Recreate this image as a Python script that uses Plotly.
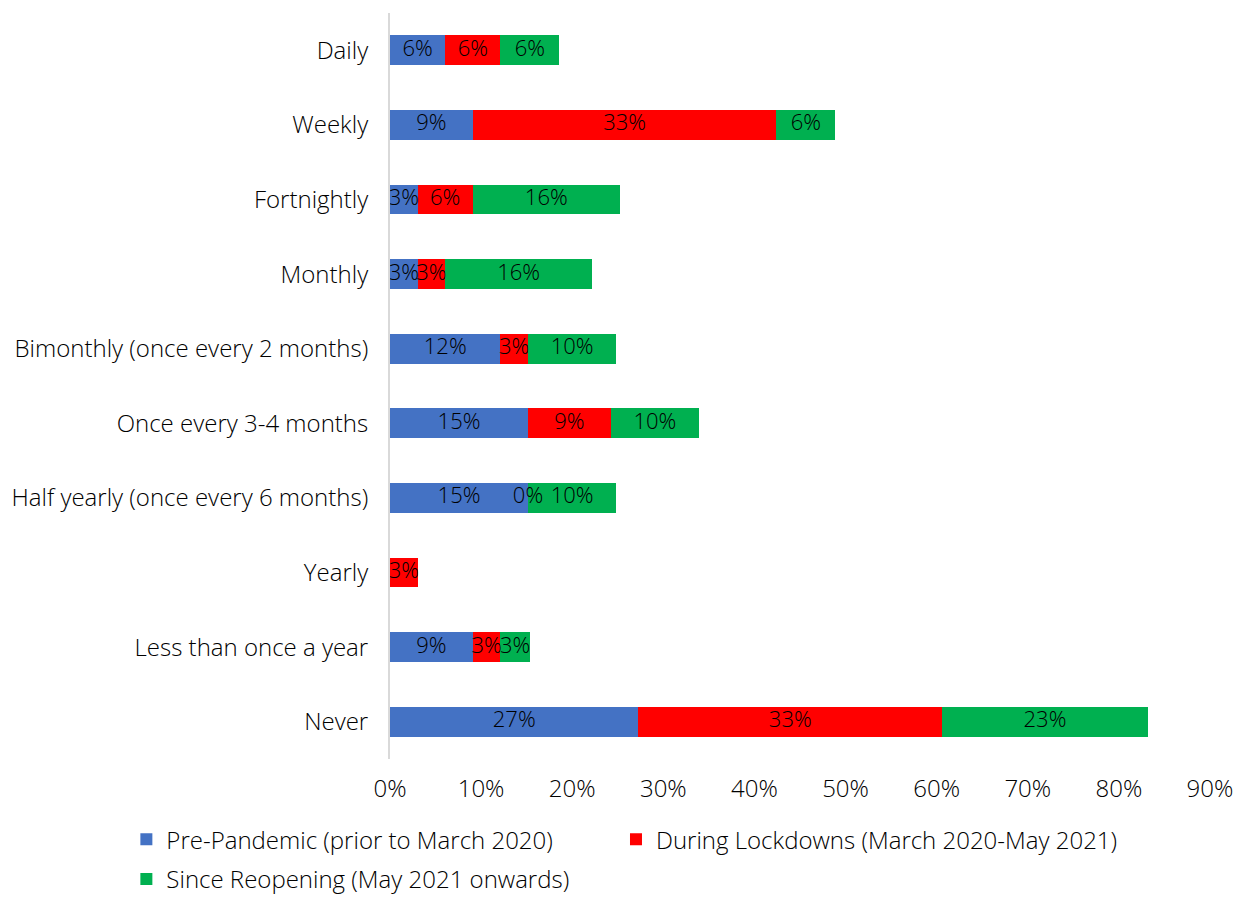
import plotly.graph_objects as go

categories = [
    "Daily",
    "Weekly",
    "Fortnightly",
    "Monthly",
    "Bimonthly (once every 2 months)",
    "Once every 3-4 months",
    "Half yearly (once every 6 months)",
    "Yearly",
    "Less than once a year",
    "Never",
]

# Share of respondents per frequency, for each period
pre_pandemic = [0.0606, 0.0909, 0.0303, 0.0303, 0.1212, 0.1515, 0.1515, None, 0.0909, 0.2727]
during_lockdowns = [0.0606, 0.3333, 0.0606, 0.0303, 0.0303, 0.0909, 0.0, 0.0303, 0.0303, 0.3333]
since_reopening = [0.0645, 0.0645, 0.1613, 0.1613, 0.0968, 0.0968, 0.0968, None, 0.0323, 0.2258]

series_names = [
    "Pre-Pandemic (prior to March 2020)",
    "During Lockdowns (March 2020-May 2021)",
    "Since Reopening (May 2021 onwards)",
]
series_values = [pre_pandemic, during_lockdowns, since_reopening]
series_colors = ["#4472C4", "#FF0000", "#00B050"]
series_legends = ["legend", "legend2", "legend3"]

x_ticks = [i / 10 for i in range(10)]

FONT = "Open Sans"
WEIGHT = 300
TEXT = dict(family=FONT, size=24, color="#000000", weight=WEIGHT)
LABEL = dict(family=FONT, size=22, color="#000000", weight=WEIGHT)

fig = go.Figure()
for name, vals, color, leg in zip(series_names, series_values, series_colors, series_legends):
    fig.add_trace(
        go.Bar(
            y=categories,
            x=vals,
            name=name,
            orientation="h",
            marker=dict(color=color, line=dict(width=0)),
            textposition="none",
            legend=leg,
            hovertemplate="%{y}: %{x:.0%}<extra>" + name + "</extra>",
        )
    )

# Data labels centred on each stacked segment (drawn even for 0% segments)
lab_x, lab_y, lab_t = [], [], []
for i, cat in enumerate(categories):
    base = 0.0
    for vals in series_values:
        v = vals[i]
        if v is None:
            continue
        lab_x.append(base + v / 2)
        lab_y.append(cat)
        lab_t.append(f"{v:.0%}")
        base += v

fig.add_trace(
    go.Scatter(
        x=lab_x,
        y=lab_y,
        text=lab_t,
        mode="text",
        textposition="middle center",
        textfont=LABEL,
        showlegend=False,
        hoverinfo="skip",
        cliponaxis=False,
    )
)

legend_common = dict(
    orientation="h",
    xanchor="left",
    font=TEXT,
    itemclick=False,
    itemdoubleclick=False,
    bgcolor="rgba(0,0,0,0)",
)

fig.update_layout(
    barmode="stack",
    bargap=0.6,
    width=1247,
    height=898,
    margin=dict(l=390, r=37, t=13, b=139, autoexpand=False),
    paper_bgcolor="white",
    plot_bgcolor="white",
    font=TEXT,
    showlegend=True,
    legend=dict(x=-0.3215, y=-0.078, yanchor="top", **legend_common),
    legend2=dict(x=0.2756, y=-0.078, yanchor="top", **legend_common),
    legend3=dict(x=-0.3215, y=-0.1917, yanchor="bottom", **legend_common),
    xaxis=dict(
        range=[0, 0.9],
        tickvals=x_ticks,
        tickformat=".0%",
        showgrid=False,
        zeroline=False,
        showline=False,
        ticks="",
        ticklabelstandoff=13,
        tickfont=TEXT,
    ),
    yaxis=dict(
        autorange="reversed",
        showgrid=False,
        zeroline=False,
        showline=True,
        linecolor="#D9D9D9",
        linewidth=2,
        ticks="",
        ticklabelstandoff=15,
        tickfont=TEXT,
    ),
)

fig.write_html("out.html")
